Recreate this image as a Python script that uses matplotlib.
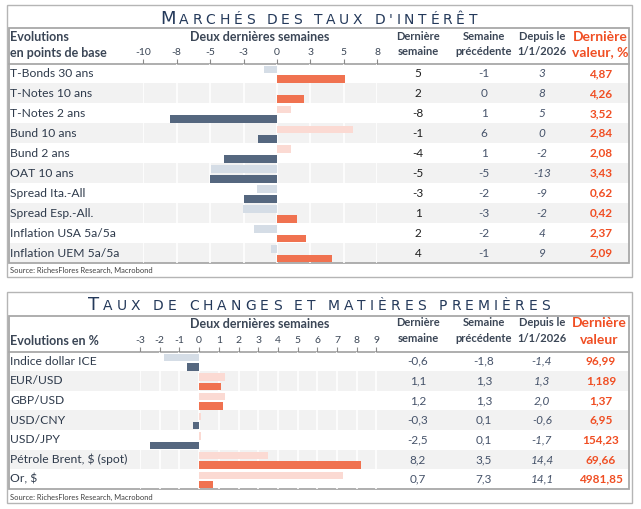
import matplotlib
matplotlib.use('Agg')
import matplotlib.pyplot as plt
from matplotlib.patches import Rectangle
from matplotlib.font_manager import FontProperties, findfont, get_font

# ---------------- data ----------------
rates_labels = ['T-Bonds 30 ans', 'T-Notes 10 ans', 'T-Notes 2 ans', 'Bund 10 ans', 'Bund 2 ans',
                'OAT 10 ans', 'Spread Ita.-All', 'Spread Esp.-All.', 'Inflation USA 5a/5a',
                'Inflation UEM 5a/5a']
rates_last_bar = [5.1, 2.0, -8.0, -1.4, -4.0, -5.0, -2.5, 1.5, 2.2, 4.1]
rates_prev_bar = [-0.95, 0.0, 1.05, 5.7, 1.05, -4.95, -1.5, -2.55, -1.7, -0.45]
rates_last = ['5', '2', '-8', '-1', '-4', '-5', '-3', '1', '2', '4']
rates_prev = ['-1', '0', '1', '6', '1', '-5', '-2', '-3', '-2', '-1']
rates_ytd = ['3', '8', '5', '0', '-2', '-13', '-9', '-2', '4', '9']
rates_level = ['4,87', '4,26', '3,52', '2,84', '2,08', '3,43', '0,62', '0,42', '2,37', '2,09']
rates_ticks = [-10, -7.5, -5, -2.5, 0, 2.5, 5, 7.5]
rates_ticklabels = ['-10', '-8', '-5', '-3', '0', '3', '5', '8']

fx_labels = ['Indice dollar ICE', 'EUR/USD', 'GBP/USD', 'USD/CNY', 'USD/JPY',
             'Pétrole Brent, $ (spot)', 'Or, $']
fx_last = [-0.6, 1.1, 1.2, -0.3, -2.5, 8.2, 0.7]
fx_prev = [-1.8, 1.3, 1.3, 0.1, 0.1, 3.5, 7.3]
fx_ytd = [-1.4, 1.3, 2.0, -0.6, -1.7, 14.4, 14.1]
fx_level = ['96,99', '1,189', '1,37', '6,95', '154,23', '69,66', '4981,85']
fx_ticks = [-3, -2, -1, 0, 1, 2, 3, 4, 5, 6, 7, 8, 9]
fx_ticklabels = [str(t) for t in fx_ticks]

# ---------------- style ----------------
FONT = ['Lato', 'DejaVu Sans']
TITLE_C = '#24395a'
HEAD_C = '#3b4656'
LABEL_C = '#2e3a4b'
VAL_C = '#1e1e1e'
VAL2_C = '#46536a'
ORANGE = '#f04e23'
POS_S, NEG_S = '#f07250', '#55677f'
POS_L, NEG_L = '#fbdad3', '#d5dde6'
GRAY_ROW = '#f2f2f2'
BORDER = '#a8a8a8'
LABEL_SIZE = 8.7
VAL_SIZE = 8.5

W, H = 641, 509
fig = plt.figure(figsize=(W / 100, H / 100), dpi=100)
bg = fig.add_axes([0, 0, 1, 1])
bg.set_xlim(0, W)
bg.set_ylim(H, 0)
bg.axis('off')


def advance(ch, sz, family='DejaVu Sans'):
    font = get_font(findfont(FontProperties(family=family)))
    font.set_size(sz, 100)
    g = font.load_char(ord(ch))
    return g.linearHoriAdvance / 65536.0


def smallcaps(parts, x0, x1, base):
    chars = [(ch, sz) for s, sz in parts for ch in s]
    widths = [advance(ch, sz) for ch, sz in chars]
    extra = (x1 - x0 - sum(widths)) / (len(chars) - 1)
    x = x0
    for (ch, sz), w in zip(chars, widths):
        if ch != ' ':
            bg.text(x + w / 2, base, ch, fontsize=sz, family='DejaVu Sans', color=TITLE_C,
                    ha='center', va='baseline')
        x += w + extra


def txt(x, y, s, size=9, color=LABEL_C, ha='center', weight='normal', style='normal'):
    bg.text(x, y, s, fontsize=size, color=color, ha=ha, va='center',
            family=FONT, fontweight=weight, fontstyle=style)


def panel(top, bottom, inner_top, sep, rows_bot, labels, last_bar, prev_bar,
          last_txt, prev_txt, ytd_txt, lvl_txt, xmin_px, xmax_px, vmin, vmax,
          ticks, ticklabels, last_color):
    bg.add_patch(Rectangle((7, top), 625, bottom - top, fill=False, ec='#b5b5b5', lw=1.0))
    n = len(labels)
    rh = (rows_bot - sep) / n
    for i in range(n):
        if i % 2 == 1:
            bg.add_patch(Rectangle((9.5, sep + i * rh), 619, rh, fc=GRAY_ROW, ec='none', zorder=0.5))
    bg.add_patch(Rectangle((9, inner_top), 620, rows_bot - inner_top, fill=False, ec=BORDER,
                           lw=1.3, zorder=3))
    bg.plot([9, 629], [sep, sep], color=BORDER, lw=1.3, zorder=3)
    for i in range(n):
        yc = sep + (i + 0.5) * rh
        txt(10, yc, labels[i], size=LABEL_SIZE, ha='left')
        txt(418, yc, last_txt[i], size=VAL_SIZE, color=last_color)
        txt(484, yc, prev_txt[i], size=VAL_SIZE, color=VAL2_C)
        txt(542, yc, ytd_txt[i], size=VAL_SIZE, color=VAL2_C, style='italic')
        txt(601, yc, lvl_txt[i], size=VAL_SIZE, color=ORANGE, weight='bold')
    ax = fig.add_axes([xmin_px / W, 1 - rows_bot / H, (xmax_px - xmin_px) / W, (rows_bot - sep) / H])
    ax.patch.set_alpha(0)
    ax.set_xlim(vmin, vmax)
    ax.set_ylim(n - 0.5, -0.5)
    pos = list(range(n))
    ax.barh([p - 0.2 for p in pos], prev_bar, height=0.38,
            color=[POS_L if v >= 0 else NEG_L for v in prev_bar], zorder=2)
    ax.barh([p + 0.28 for p in pos], last_bar, height=0.38,
            color=[POS_S if v >= 0 else NEG_S for v in last_bar], zorder=2)
    ax.set_xticks(ticks)
    ax.set_xticklabels(ticklabels)
    ax.xaxis.tick_top()
    ax.tick_params(axis='x', direction='out', length=3.5, width=0.8, color='#8a8a8a',
                   pad=1.5, labelsize=7.5, labelcolor=HEAD_C)
    for lab in ax.get_xticklabels():
        lab.set_family(FONT)
    ax.set_yticks([])
    for s in ax.spines.values():
        s.set_visible(False)
    ax.grid(axis='x', color='white', lw=1.2, zorder=1)
    ax.set_axisbelow(True)
    return ax


def fmt1(v):
    return f'{v:.1f}'.replace('.', ',')


# ---------------- top panel ----------------
smallcaps([('M', 13.0), ("ARCHÉS DES TAUX D'INTÉRÊT", 10.0)], 160, 477, 24)
panel(5, 277, 28, 63.5, 263, rates_labels, rates_last_bar, rates_prev_bar,
      rates_last, rates_prev, rates_ytd, rates_level, 143.3, 377.3, -10, 7.5,
      rates_ticks, rates_ticklabels, VAL_C)
txt(10, 37, 'Evolutions', size=9, color=HEAD_C, ha='left', weight='bold')
txt(10, 53, 'en points de base', size=9, color=HEAD_C, ha='left', weight='bold')
txt(260, 37, 'Deux dernières semaines', size=9, color=HEAD_C, weight='bold')
for xc, l1, l2 in [(418, 'Dernière', 'semaine'), (484, 'Semaine', 'précédente'),
                   (542, 'Depuis le', '1/1/2026')]:
    txt(xc, 36.5, l1, size=8, color=HEAD_C, weight='bold')
    txt(xc, 51.5, l2, size=8, color=HEAD_C, weight='bold')
txt(600, 36.5, 'Dernière', size=10, color=ORANGE, weight='bold')
txt(600, 52, 'valeur, %', size=10, color=ORANGE, weight='bold')
txt(10, 270, 'Source: RichesFlores Research, Macrobond', size=5.4, color='#404040', ha='left')

# ---------------- bottom panel ----------------
smallcaps([('T', 13.0), ('AUX DE CHANGES ET MATIÈRES PREMIÈRES', 10.0)], 88, 550, 310)
panel(292, 503, 316, 351.5, 489, fx_labels, fx_last, fx_prev,
      [fmt1(v) for v in fx_last], [fmt1(v) for v in fx_prev], [fmt1(v) for v in fx_ytd],
      fx_level, 140, 377, -3, 9.03, fx_ticks, fx_ticklabels, VAL2_C)
txt(10, 341, 'Evolutions en %', size=9, color=HEAD_C, ha='left', weight='bold')
txt(260, 324, 'Deux dernières semaines', size=9, color=HEAD_C, weight='bold')
for xc, l1, l2 in [(418, 'Dernière', 'semaine'), (484, 'Semaine', 'précédente'),
                   (542, 'Depuis le', '1/1/2026')]:
    txt(xc, 323, l1, size=8, color=HEAD_C, weight='bold')
    txt(xc, 338.5, l2, size=8, color=HEAD_C, weight='bold')
txt(599, 323, 'Dernière', size=10, color=ORANGE, weight='bold')
txt(599, 340, 'valeur', size=10, color=ORANGE, weight='bold')
txt(10, 497, 'Source: RichesFlores Research, Macrobond', size=5.4, color='#404040', ha='left')

fig.savefig('out.png', dpi=100)
